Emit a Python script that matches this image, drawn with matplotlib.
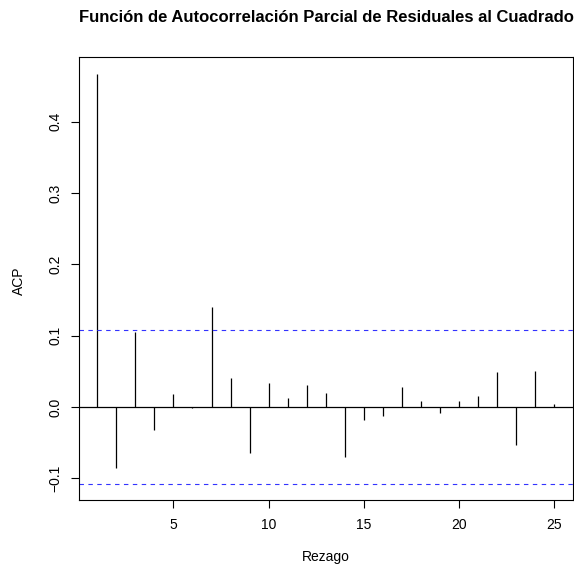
import matplotlib
matplotlib.use("Agg")
import matplotlib.pyplot as plt

# PACF de residuales al cuadrado
rezagos = list(range(1, 26))
pacf = [0.467, -0.085, 0.105, -0.032, 0.018, -0.001, 0.140, 0.041, -0.064, 0.034,
        0.012, 0.031, 0.020, -0.070, -0.018, -0.013, 0.028, 0.008, -0.009, 0.009,
        0.015, 0.049, -0.053, 0.050, 0.004]
limite = 0.108  # banda de confianza

titulo = "Función de Autocorrelación Parcial de Residuales al Cuadrado"
xticks = [5, 10, 15, 20, 25]
yticks = [-0.1, 0.0, 0.1, 0.2, 0.3, 0.4]

plt.rcParams['font.family'] = ['Liberation Sans', 'DejaVu Sans']

W, H = 574, 567
fig = plt.figure(figsize=(W / 100, H / 100), dpi=100)
ax = fig.add_axes([79 / W, (H - 500) / H, (572.6 - 79) / W, (500 - 57.3) / H])

ax.vlines(rezagos, 0, pacf, colors="black", linewidth=0.9)
ax.axhline(0, color="black", linewidth=0.9)
ax.axhline(limite, color="#3333ff", linewidth=0.8, linestyle=(0, (4, 4)))
ax.axhline(-limite, color="#3333ff", linewidth=0.8, linestyle=(0, (4, 4)))

ax.set_xlim(0.04, 25.96)
ax.set_ylim(-0.1306, 0.4906)
ax.set_xticks(xticks)
ax.set_xticklabels([str(t) for t in xticks])
ax.set_yticks(yticks)
ax.set_yticklabels(["%.1f" % t if t >= 0 else "\u22120.1" for t in yticks],
                   rotation=90, va="center")
ax.tick_params(direction="out", length=6, width=0.8, labelsize=10, colors="black")
ax.tick_params(axis="x", pad=7)
ax.tick_params(axis="y", pad=6)
for s in ax.spines.values():
    s.set_linewidth(0.8)

fig.text(326 / W, 1 - 17 / H, titulo, ha="center", va="center",
         fontsize=12, fontweight="bold")
fig.text(326 / W, 1 - 557 / H, "Rezago", ha="center", va="center", fontsize=10)
fig.text(19 / W, 1 - 281 / H, "ACP", ha="center", va="center", fontsize=10,
         rotation=90)

fig.savefig("out.png", dpi=100)
